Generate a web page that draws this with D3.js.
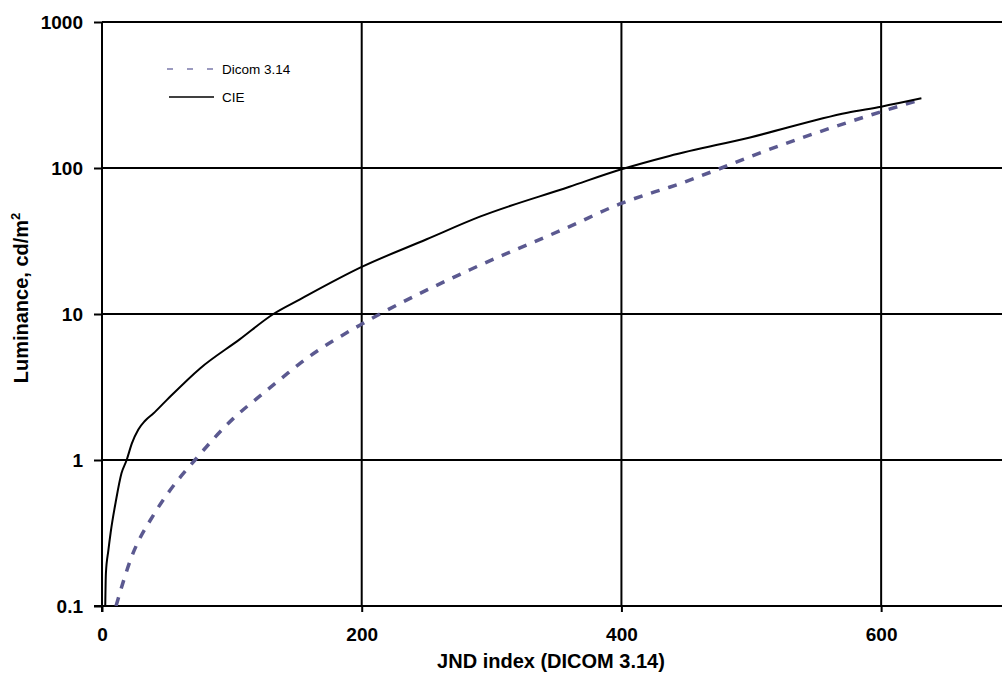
<!DOCTYPE html>
<html>
<head>
<meta charset="utf-8">
<script src="https://cdn.jsdelivr.net/npm/d3@7"></script>
<style>
  html, body { margin: 0; padding: 0; background: #fff; }
  svg { display: block; }
  text { font-family: "Liberation Sans", Arial, Helvetica, sans-serif; }
</style>
</head>
<body>
<svg id="chart" width="1002" height="675"></svg>
<script>
// ---- data ----
const cieX = [2.5, 3, 4.9, 6.7, 10.8, 15, 19, 23, 28, 33, 39.5, 49.8, 75.5, 106, 132, 152.5, 200, 250, 291, 360, 400, 437, 499, 574, 600, 631];
const cieY = [0.1, 0.167, 0.24, 0.32, 0.53, 0.81, 1.0, 1.3, 1.62, 1.85, 2.08, 2.57, 4.24, 6.7, 10, 12.6, 21, 32.5, 46.4, 74.4, 98, 121, 162, 239, 263, 300];

const dicomX = [10.8, 22.8, 39.5, 52.4, 71.6, 101, 121.7, 139.6, 152.5, 200, 214, 283.4, 360, 400, 422, 437, 477, 499, 576, 600, 630];
const dicomY = [0.1, 0.217, 0.418, 0.62, 1.0, 1.92, 2.75, 3.71, 4.59, 8.53, 10, 20.1, 39.7, 57.3, 67, 73.8, 100, 119.5, 207.6, 243, 293];

const xTicks = [0, 200, 400, 600];
const yTicks = [0.1, 1, 10, 100, 1000];
const yTickLabels = ["0.1", "1", "10", "100", "1000"];
const seriesNames = ["Dicom 3.14", "CIE"];

// ---- layout ----
const svg = d3.select("#chart");
const x = d3.scaleLinear().domain([0, 700]).range([102, 1011]);
const y = d3.scaleLog().domain([0.1, 1000]).range([606, 22]);
const plotLeft = x(0), plotBottom = y(0.1), plotTop = y(1000);

svg.append("defs").append("clipPath").attr("id", "clip")
  .append("rect").attr("x", plotLeft).attr("y", plotTop)
  .attr("width", 1002 - plotLeft).attr("height", plotBottom - plotTop);

// grid
const grid = svg.append("g");
grid.selectAll("line.h").data(yTicks.filter(d => d > 0.1)).enter().append("line")
  .attr("x1", plotLeft).attr("x2", 1002)
  .attr("y1", d => y(d)).attr("y2", d => y(d))
  .attr("stroke", "#000").attr("stroke-width", 2);
grid.selectAll("line.v").data(xTicks.filter(d => d > 0)).enter().append("line")
  .attr("x1", d => x(d)).attr("x2", d => x(d))
  .attr("y1", plotTop).attr("y2", plotBottom)
  .attr("stroke", "#000").attr("stroke-width", 2);

// axes
const xAxis = d3.axisBottom(x).tickValues(xTicks).tickFormat(d3.format("d"))
  .tickSize(6).tickPadding(16);
const gx = svg.append("g").attr("transform", `translate(0,${plotBottom})`).call(xAxis);
gx.select(".domain").remove();
gx.append("line").attr("x1", plotLeft - 8).attr("x2", 1002).attr("y1", 0).attr("y2", 0)
  .attr("stroke", "#000").attr("stroke-width", 2);
gx.selectAll(".tick line").attr("stroke", "#000").attr("stroke-width", 2);
gx.selectAll(".tick text").attr("font-size", 19).attr("font-weight", "bold").attr("fill", "#000")
  .attr("font-family", "'Liberation Sans', Arial, sans-serif");

const yAxis = d3.axisLeft(y).tickValues(yTicks).tickFormat((d, i) => yTickLabels[i])
  .tickSize(8).tickPadding(11);
const gy = svg.append("g").attr("transform", `translate(${plotLeft},0)`).call(yAxis);
gy.select(".domain").remove();
gy.append("line").attr("x1", 0).attr("x2", 0).attr("y1", plotTop).attr("y2", plotBottom + 6)
  .attr("stroke", "#000").attr("stroke-width", 2);
gy.selectAll(".tick line").attr("stroke", "#000").attr("stroke-width", 2);
gy.selectAll(".tick text").attr("font-size", 19).attr("font-weight", "bold").attr("fill", "#000")
  .attr("font-family", "'Liberation Sans', Arial, sans-serif");

// axis titles
svg.append("text").attr("x", 551).attr("y", 668).attr("text-anchor", "middle")
  .attr("font-size", 20).attr("font-weight", "bold").text("JND index (DICOM 3.14)");
const yt = svg.append("text").attr("transform", "translate(28,298) rotate(-90)")
  .attr("text-anchor", "middle").attr("font-size", 20).attr("font-weight", "bold");
yt.append("tspan").text("Luminance, cd/m");
yt.append("tspan").attr("font-size", 13).attr("dy", -8).text("2");

// series
const line = d3.line().x(d => x(d[0])).y(d => y(d[1])).curve(d3.curveMonotoneX);
const plot = svg.append("g").attr("clip-path", "url(#clip)");
plot.append("path").datum(dicomX.map((v, i) => [v, dicomY[i]]))
  .attr("d", line).attr("fill", "none").attr("stroke", "#5b5990")
  .attr("stroke-width", 3.5).attr("stroke-dasharray", "9,9");
plot.append("path").datum(cieX.map((v, i) => [v, cieY[i]]))
  .attr("d", line).attr("fill", "none").attr("stroke", "#000")
  .attr("stroke-width", 2);

// legend
const lg = svg.append("g");
lg.append("line").attr("x1", 167).attr("x2", 214).attr("y1", 69).attr("y2", 69)
  .attr("stroke", "#7b7aaa").attr("stroke-width", 1.5).attr("stroke-dasharray", "6,14");
lg.append("text").attr("x", 222).attr("y", 74).attr("font-size", 13.5).text(seriesNames[0]);
lg.append("line").attr("x1", 169).attr("x2", 214).attr("y1", 97).attr("y2", 97)
  .attr("stroke", "#000").attr("stroke-width", 1.5);
lg.append("text").attr("x", 222).attr("y", 102).attr("font-size", 13.5).text(seriesNames[1]);
</script>
</body>
</html>
